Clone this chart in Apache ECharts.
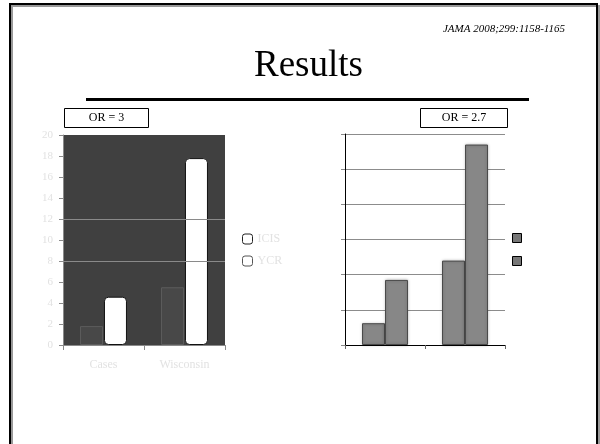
<!DOCTYPE html>
<html>
<head>
<meta charset="utf-8">
<script src="https://cdn.jsdelivr.net/npm/echarts@6/dist/echarts.min.js"></script>
<style>
html,body{margin:0;padding:0;background:#fff;}
#chart{width:600px;height:444px;}
</style>
</head>
<body>
<div id="chart"></div>
<script>
// Left chart (OR = 3)
var leftCategories = ['Cases', 'Wisconsin'];
var leftSeriesNames = ['ICIS', 'YCR'];
var leftSeries1 = [1.8, 5.5];
var leftSeries2 = [4.6, 17.8];
var leftTicks = [0, 2, 4, 6, 8, 10, 12, 14, 16, 18, 20];
var leftRefLines = [8, 12];
// Right chart (OR = 2.7)
var rightCategories = ['A', 'B'];
var rightSeriesNames = ['Series 1', 'Series 2'];
var rightSeries1 = [0.62, 2.4];
var rightSeries2 = [1.85, 5.7];
// Texts
var sourceText = 'JAMA 2008;299:1158-1165';
var titleText = 'Results';
var leftBoxText = 'OR = 3';
var rightBoxText = 'OR = 2.7';

var serif = '"Liberation Serif", "Times New Roman", serif';
var chart = echarts.init(document.getElementById('chart'), null, {renderer: 'canvas'});

var option = {
  backgroundColor: '#ffffff',
  animation: false,
  title: [
    {text: sourceText, right: 30, top: 19, textStyle: {fontFamily: serif, fontStyle: 'italic', fontWeight: 'normal', fontSize: 11, color: '#000'}},
    {text: titleText, left: 249, top: 43, textStyle: {fontFamily: serif, fontWeight: 'normal', fontSize: 37, color: '#000'}}
  ],
  graphic: [
    {type: 'rect', shape: {x: 12, y: 6, width: 587, height: 460}, style: {fill: 'none', stroke: '#999', lineWidth: 2}, silent: true},
    {type: 'rect', shape: {x: 10, y: 4, width: 587, height: 460}, style: {fill: 'none', stroke: '#000', lineWidth: 2}, silent: true},
    {type: 'line', shape: {x1: 86, y1: 99.5, x2: 529, y2: 99.5}, style: {stroke: '#000', lineWidth: 3}, silent: true},
    {type: 'rect', shape: {x: 64.5, y: 108.5, width: 84, height: 19}, style: {fill: '#fff', stroke: '#000', lineWidth: 1}, silent: true},
    {type: 'text', x: 106.5, y: 118, style: {text: leftBoxText, fontFamily: serif, fontSize: 12, fill: '#000', align: 'center', verticalAlign: 'middle'}, silent: true},
    {type: 'rect', shape: {x: 420.5, y: 108.5, width: 87, height: 19}, style: {fill: '#fff', stroke: '#000', lineWidth: 1}, silent: true},
    {type: 'text', x: 464, y: 118, style: {text: rightBoxText, fontFamily: serif, fontSize: 12, fill: '#000', align: 'center', verticalAlign: 'middle'}, silent: true}
  ],
  legend: [
    {
      orient: 'vertical', left: 237, top: 228, itemWidth: 10, itemHeight: 10, itemGap: 10,
      icon: 'roundRect',
      data: [
        {name: leftSeriesNames[0], itemStyle: {color: '#fff', borderColor: '#222', borderWidth: 1}},
        {name: leftSeriesNames[1], itemStyle: {color: '#fff', borderColor: '#555', borderWidth: 1}}
      ],
      textStyle: {color: '#e2e2e2', fontFamily: serif, fontSize: 12},
      selectedMode: false
    },
    {
      orient: 'vertical', left: 507, top: 228, itemWidth: 9, itemHeight: 9, itemGap: 13,
      icon: 'rect',
      data: [
        {name: rightSeriesNames[0], itemStyle: {color: '#777', borderColor: '#000', borderWidth: 1}},
        {name: rightSeriesNames[1], itemStyle: {color: '#777', borderColor: '#000', borderWidth: 1}}
      ],
      formatter: function () { return ''; },
      selectedMode: false
    }
  ],
  grid: [
    {left: 63, top: 135, width: 162, height: 210, show: true, backgroundColor: '#404040', borderWidth: 0},
    {left: 345, top: 134, width: 160, height: 211, show: false}
  ],
  xAxis: [
    {
      gridIndex: 0, type: 'category', data: leftCategories,
      axisLine: {lineStyle: {color: '#8a8a8a', width: 1}},
      axisTick: {show: true, length: 5, lineStyle: {color: '#8a8a8a'}},
      axisLabel: {color: '#e2e2e2', fontFamily: serif, fontSize: 12, margin: 14}
    },
    {
      gridIndex: 1, type: 'category', data: rightCategories,
      axisLine: {lineStyle: {color: '#000', width: 1}},
      axisTick: {show: true, length: 4, lineStyle: {color: '#666'}},
      axisLabel: {show: false}
    }
  ],
  yAxis: [
    {
      gridIndex: 0, type: 'value', min: 0, max: 20, interval: 2,
      axisLine: {show: true, lineStyle: {color: '#8a8a8a', width: 1}},
      axisTick: {show: true, length: 4, lineStyle: {color: '#8a8a8a'}},
      axisLabel: {color: '#e2e2e2', fontFamily: serif, fontSize: 11, margin: 10,
        formatter: function (v) { return leftTicks.indexOf(v) >= 0 ? String(v) : ''; }},
      splitLine: {show: false}
    },
    {
      gridIndex: 1, type: 'value', min: 0, max: 6, interval: 1,
      axisLine: {show: true, lineStyle: {color: '#000', width: 1}},
      axisTick: {show: true, length: 4, lineStyle: {color: '#888'}},
      axisLabel: {show: false},
      splitLine: {show: true, lineStyle: {color: '#8c8c8c', width: 1}}
    }
  ],
  series: [
    {
      name: leftSeriesNames[0], type: 'bar', xAxisIndex: 0, yAxisIndex: 0,
      data: leftSeries1, barWidth: 23, barGap: '4%',
      itemStyle: {color: '#484848', borderColor: '#5c5c5c', borderWidth: 1},
      markLine: {
        silent: true, symbol: 'none', label: {show: false},
        lineStyle: {color: '#8a8a8a', type: 'solid', width: 1},
        data: leftRefLines.map(function (v) { return {yAxis: v}; })
      },
      z: 3
    },
    {
      name: leftSeriesNames[1], type: 'bar', xAxisIndex: 0, yAxisIndex: 0,
      data: leftSeries2, barWidth: 23, barGap: '4%',
      itemStyle: {color: '#ffffff', borderColor: '#111', borderWidth: 1, borderRadius: 4},
      z: 4
    },
    {
      name: rightSeriesNames[0], type: 'bar', xAxisIndex: 1, yAxisIndex: 1,
      data: rightSeries1, barWidth: 23, barGap: '0%',
      itemStyle: {color: '#878787', borderColor: '#4a4a4a', borderWidth: 1,
        shadowColor: 'rgba(0,0,0,0.25)', shadowBlur: 3, shadowOffsetX: 0, shadowOffsetY: 0}
    },
    {
      name: rightSeriesNames[1], type: 'bar', xAxisIndex: 1, yAxisIndex: 1,
      data: rightSeries2, barWidth: 23, barGap: '0%',
      itemStyle: {color: '#878787', borderColor: '#4a4a4a', borderWidth: 1,
        shadowColor: 'rgba(0,0,0,0.25)', shadowBlur: 3, shadowOffsetX: 0, shadowOffsetY: 0}
    }
  ]
};
chart.setOption(option);
</script>
</body>
</html>
